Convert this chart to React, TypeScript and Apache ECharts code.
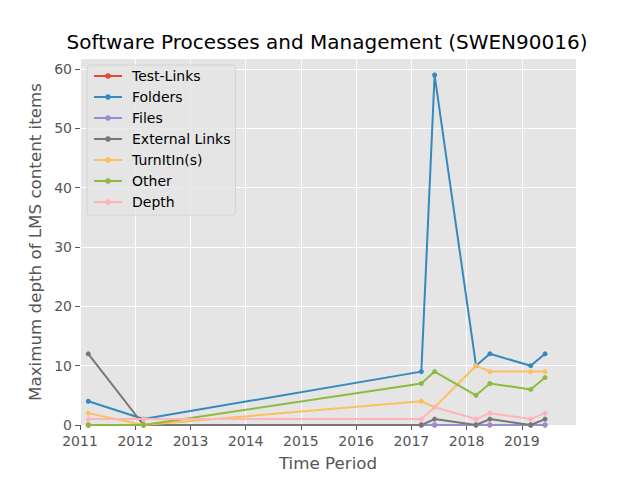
import React, { useEffect, useRef } from "react";
import * as echarts from "echarts";

const periods = [2011.15, 2012.15, 2017.18, 2017.42, 2018.17, 2018.42, 2019.16, 2019.42];
const seriesNames = ["Test-Links", "Folders", "Files", "External Links", "TurnItIn(s)", "Other", "Depth"];
const testLinks = [0, 0, 0, 0, 0, 0, 0, 0];
const folders = [4, 1, 9, 59, 10, 12, 10, 12];
const files = [0, 0, 0, 0, 0, 0, 0, 0];
const externalLinks = [12, 0, 0, 1, 0, 1, 0, 1];
const turnItIns = [2, 0, 4, 3, 10, 9, 9, 9];
const other = [0, 0, 7, 9, 5, 7, 6, 8];
const depth = [1, 1, 1, 3, 1, 2, 1, 2];
const colors = ["#E24A33", "#348ABD", "#988ED5", "#777777", "#FBC15E", "#8EBA42", "#FFB5B8"];
const yTicks = [0, 10, 20, 30, 40, 50, 60];

export default function App() {
  const ref = useRef<HTMLDivElement>(null);
  useEffect(() => {
    if (!ref.current) return;
    const chart = echarts.init(ref.current, null, { renderer: "svg" });
    const values = [testLinks, folders, files, externalLinks, turnItIns, other, depth];
    const font = "DejaVu Sans";
    chart.setOption({
      animation: false,
      backgroundColor: "#ffffff",
      textStyle: { fontFamily: font },
      title: {
        text: "Software Processes and Management (SWEN90016)",
        left: 322,
        top: 27,
        textAlign: "center",
        textStyle: { fontFamily: font, fontSize: 20, fontWeight: "normal", color: "#000000" },
      },
      legend: {
        orient: "vertical",
        left: 87,
        top: 65,
        padding: [4, 5, 6, 6],
        itemWidth: 28,
        itemHeight: 7,
        itemGap: 7,
        backgroundColor: "rgba(229,229,229,0.8)",
        borderColor: "#d4d4d4",
        borderWidth: 1,
        borderRadius: 3,
        textStyle: { fontFamily: font, fontSize: 14, lineHeight: 14, color: "#000000", padding: [0, 0, 0, 5] },
        data: seriesNames,
      },
      grid: {
        left: 80,
        right: 64,
        top: 59,
        bottom: 55,
        show: true,
        backgroundColor: "#E5E5E5",
        borderWidth: 0,
      },
      xAxis: {
        type: "value",
        min: 2011,
        max: 2019.98,
        interval: 1,
        name: "Time Period",
        nameLocation: "middle",
        nameGap: 29,
        nameTextStyle: { fontFamily: font, fontSize: 16.7, color: "#555555" },
        axisLine: { show: false },
        axisTick: { show: true, length: 5, lineStyle: { color: "#555555", width: 1 } },
        axisLabel: {
          showMaxLabel: false,
          margin: 9,
          fontFamily: font,
          fontSize: 14,
          color: "#555555",
          formatter: (v: number) => String(Math.round(v)),
        },
        splitLine: { show: true, showMaxLine: false, lineStyle: { color: "#ffffff", width: 1 } },
      },
      yAxis: {
        type: "value",
        min: 0,
        max: 61.7,
        interval: 10,
        name: "Maximum depth of LMS content items",
        nameLocation: "middle",
        nameGap: 33,
        nameTextStyle: { fontFamily: font, fontSize: 16.7, color: "#555555" },
        axisLine: { show: false },
        axisTick: { show: true, length: 5, lineStyle: { color: "#555555", width: 1 } },
        axisLabel: {
          showMaxLabel: false,
          margin: 8,
          fontFamily: font,
          fontSize: 14,
          color: "#555555",
          formatter: (v: number) => (yTicks.includes(v) ? String(v) : ""),
        },
        splitLine: { show: true, showMaxLine: false, lineStyle: { color: "#ffffff", width: 1 } },
      },
      series: seriesNames.map((name, i) => ({
        name,
        type: "line",
        data: periods.map((p, j) => [p, values[i][j]]),
        symbol: "circle",
        symbolSize: 5,
        showSymbol: true,
        clip: false,
        color: colors[i],
        itemStyle: { color: colors[i] },
        lineStyle: { color: colors[i], width: 2 },
      })),
    });
    return () => chart.dispose();
  }, []);
  return <div ref={ref} style={{ width: 640, height: 480, position: "absolute", left: 0, top: 0 }} />;
}
